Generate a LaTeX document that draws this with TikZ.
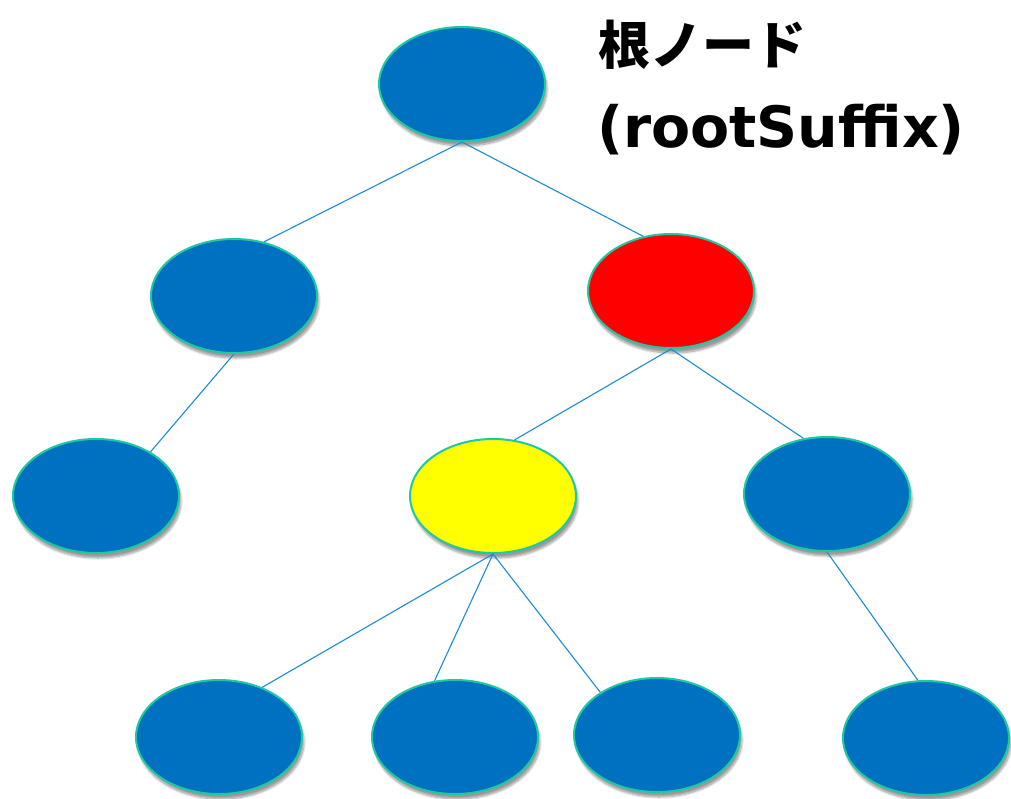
\documentclass[tikz,border=0pt]{standalone}
\usepackage{fontspec}
\setmainfont{DejaVu Sans}
\newfontfamily\jpfont{Noto Sans CJK JP}
\usepackage{tikz}
\usetikzlibrary{shapes.geometric,shadows.blur}
\definecolor{nodeblue}{HTML}{0070C0}
\definecolor{rimgreen}{HTML}{1EC8A0}
\definecolor{edgeblue}{HTML}{1C8BD6}
\definecolor{hotred}{HTML}{FF0000}
\definecolor{hotyellow}{HTML}{FFFF00}

\begin{document}
\begin{tikzpicture}[x=1pt, y=-1pt,
    nd/.style={ellipse, draw=rimgreen, line width=2pt, fill=nodeblue, minimum width=166pt, minimum height=114pt, inner sep=0pt,
      blur shadow={shadow xshift=2pt, shadow yshift=-5pt, shadow blur steps=8, shadow opacity=40}},
    ln/.style={draw=edgeblue, line width=1.1pt}]
  \useasboundingbox (0,0) rectangle (1011,798);
  \node (root) [nd] at (462,84) {};
  \node (a) [nd] at (234,296) {};
  \node (b) [nd, fill=hotred] at (671,291) {};
  \node (aa) [nd] at (96,496) {};
  \node (ba) [nd, fill=hotyellow] at (493,496) {};
  \node (bb) [nd] at (827,494) {};
  \node (baa) [nd] at (219,737) {};
  \node (bab) [nd] at (455,737) {};
  \node (bac) [nd] at (657,735) {};
  \node (bba) [nd] at (926,738) {};
  \draw [ln] (root.south) -- (a.61);
  \draw [ln] (root.south) -- (b.117);
  \draw [ln] (a.south) -- (aa.39);
  \draw [ln] (b.south) -- (ba.69);
  \draw [ln] (b.south) -- (bb.113);
  \draw [ln] (ba.south) -- (baa.49);
  \draw [ln] (ba.south) -- (bab.110);
  \draw [ln] (ba.south) -- (bac.143);
  \draw [ln] (bb.south) -- (bba.98);
  \node (title) [anchor=base west, inner sep=0pt, font=\jpfont\bfseries\fontsize{52}{52}\selectfont] at (598,64) {根ノード};
  \node (suffix) [anchor=base west, inner sep=0pt, font=\bfseries\fontsize{57}{57}\selectfont] at (597,147) {(rootSuffix)};
\end{tikzpicture}
\end{document}
